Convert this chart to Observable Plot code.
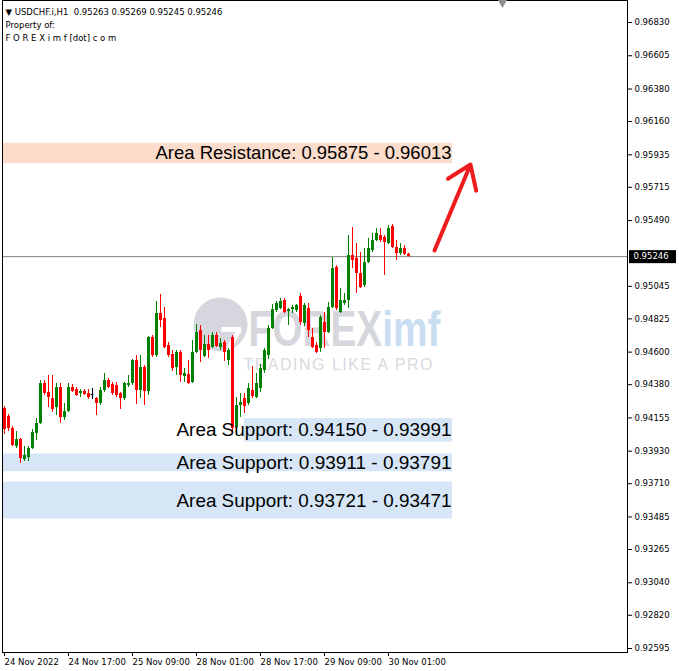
<!DOCTYPE html>
<html><head><meta charset="utf-8">
<script src="https://cdn.jsdelivr.net/npm/d3@7"></script>
<script src="https://cdn.jsdelivr.net/npm/@observablehq/plot@0.6"></script>
<style>
body{margin:0;background:#fff;}
#chart{width:679px;height:671px;overflow:hidden;}
</style></head><body><div id="chart"></div>
<script>
// ---- Data: USDCHF.i H1 candles ----
const opens  = [0.94219,0.94165,0.94083,0.93962,0.94009,0.93874,0.93887,0.93948,0.94050,0.94117,
0.94388,0.94327,0.94286,0.94225,0.94361,0.94158,0.94198,0.94361,0.94347,0.94320,
0.94334,0.94320,0.94313,0.94286,0.94253,0.94341,0.94408,0.94381,0.94374,0.94320,
0.94286,0.94374,0.94388,0.94543,0.94341,0.94496,0.94334,0.94699,0.94577,0.94861,
0.94828,0.94645,0.94584,0.94496,0.94598,0.94435,0.94449,0.94395,0.94598,0.94746,
0.94571,0.94652,0.94631,0.94713,0.94631,0.94665,0.94543,0.94699,0.94090,0.94239,
0.94286,0.94253,0.94341,0.94293,0.94354,0.94476,0.94577,0.94760,0.94882,0.94895,
0.94949,0.94875,0.94888,0.94882,0.94976,0.94794,0.94895,0.94699,0.94645,0.94625,
0.94801,0.94733,0.94902,0.95173,0.94868,0.94929,0.94949,0.95254,0.95234,0.95132,
0.95051,0.95206,0.95288,0.95355,0.95389,0.95376,0.95335,0.95450,0.95308,0.95267,
0.95301,0.95263];
const highs  = [0.94232,0.94178,0.94097,0.94063,0.94016,0.93962,0.93962,0.94077,0.94151,0.94408,
0.94408,0.94442,0.94442,0.94388,0.94388,0.94253,0.94388,0.94381,0.94361,0.94347,
0.94347,0.94347,0.94354,0.94293,0.94361,0.94456,0.94422,0.94395,0.94395,0.94327,
0.94395,0.94442,0.94550,0.94577,0.94577,0.94510,0.94706,0.94713,0.94943,0.94990,
0.94902,0.94665,0.94611,0.94611,0.94611,0.94489,0.94543,0.94679,0.94787,0.94780,
0.94713,0.94713,0.94733,0.94733,0.94692,0.94679,0.94625,0.94713,0.94293,0.94320,
0.94320,0.94388,0.94503,0.94456,0.94516,0.94625,0.94780,0.94922,0.94943,0.94963,
0.94963,0.94895,0.94916,0.94922,0.94997,0.94929,0.94929,0.94760,0.94665,0.94848,
0.94868,0.94936,0.95240,0.95186,0.95031,0.94997,0.95389,0.95443,0.95335,0.95274,
0.95301,0.95369,0.95403,0.95436,0.95436,0.95389,0.95457,0.95463,0.95355,0.95335,
0.95321,0.95269];
const lows   = [0.94043,0.94063,0.93962,0.93948,0.93847,0.93860,0.93860,0.93941,0.94002,0.94110,
0.94307,0.94225,0.94192,0.94171,0.94117,0.94138,0.94192,0.94327,0.94300,0.94293,
0.94307,0.94280,0.94280,0.94171,0.94239,0.94327,0.94354,0.94307,0.94293,0.94212,
0.94273,0.94361,0.94374,0.94246,0.94286,0.94239,0.94307,0.94564,0.94564,0.94767,
0.94625,0.94564,0.94469,0.94442,0.94395,0.94395,0.94381,0.94388,0.94591,0.94530,
0.94564,0.94557,0.94625,0.94631,0.94611,0.94537,0.94510,0.94056,0.94036,0.94158,
0.94185,0.94239,0.94286,0.94286,0.94327,0.94456,0.94550,0.94753,0.94868,0.94888,
0.94861,0.94780,0.94861,0.94868,0.94780,0.94773,0.94699,0.94625,0.94591,0.94598,
0.94625,0.94726,0.94895,0.94882,0.94861,0.94916,0.94895,0.95166,0.94997,0.95031,
0.95037,0.95200,0.95274,0.95348,0.95342,0.95119,0.95328,0.95301,0.95220,0.95254,
0.95254,0.95245];
const closes = [0.94077,0.94083,0.93968,0.94009,0.93880,0.93901,0.93948,0.94056,0.94117,0.94388,
0.94320,0.94293,0.94212,0.94361,0.94158,0.94198,0.94361,0.94334,0.94307,0.94334,
0.94313,0.94293,0.94313,0.94253,0.94341,0.94408,0.94361,0.94320,0.94307,0.94286,
0.94388,0.94388,0.94543,0.94341,0.94496,0.94334,0.94699,0.94577,0.94861,0.94814,
0.94631,0.94577,0.94489,0.94598,0.94442,0.94456,0.94388,0.94598,0.94733,0.94611,
0.94652,0.94611,0.94713,0.94638,0.94658,0.94598,0.94611,0.94083,0.94239,0.94259,
0.94232,0.94354,0.94300,0.94388,0.94489,0.94611,0.94760,0.94888,0.94929,0.94943,
0.94868,0.94888,0.94902,0.94916,0.94801,0.94916,0.94746,0.94631,0.94598,0.94834,
0.94733,0.94902,0.95166,0.94895,0.94949,0.94949,0.95254,0.95220,0.95132,0.95037,
0.95206,0.95301,0.95355,0.95403,0.95355,0.95342,0.95436,0.95308,0.95267,0.95301,
0.95261,0.95246];

// Time-axis tick labels and the bar each one sits on
const timeTickBars   = [0, 16, 32, 48, 64, 80, 96];
const timeTickLabels = ["24 Nov 2022","24 Nov 17:00","25 Nov 09:00","28 Nov 01:00","28 Nov 17:00","29 Nov 09:00","30 Nov 01:00"];

// Price-axis tick labels
const priceTicks = [0.96830,0.96605,0.96380,0.96160,0.95935,0.95715,0.95490,0.95045,0.94825,
0.94600,0.94380,0.94155,0.93930,0.93710,0.93485,0.93265,0.93040,0.92820,0.92595];

// Zones (price areas)
const zoneKind  = ["res","sup","sup","sup"];
const zoneLow   = [0.95875,0.93991,0.93791,0.93471];
const zoneHigh  = [0.96013,0.94150,0.93911,0.93721];
const zoneStart = [-1, 60, -1, -1];
const zoneEnd   = [112, 112, 112, 112];
const zoneLabel = ["Area Resistance: 0.95875 - 0.96013","Area Support: 0.94150 - 0.93991",
                   "Area Support: 0.93911 - 0.93791","Area Support: 0.93721 - 0.93471"];

// Arrow annotation (bar index, price)
const arrowFrom = [107.5, 0.95288];
const arrowTo   = [116.5, 0.95869];

const headerLines = ["\u25BC USDCHF.i,H1  0.95263 0.95269 0.95245 0.95246", "Property of:", "F O R E X i m f [dot] c o m"];
const watermarkParts = ["FOREX", "imf", "TRADING LIKE A PRO"];

// ---- Build tables ----
const candles = opens.map((o, i) => ({i, o, h: highs[i], l: lows[i], c: closes[i]}));
const zones = zoneLow.map((lo, k) => ({kind: zoneKind[k], low: lo, high: zoneHigh[k], start: zoneStart[k], end: zoneEnd[k], label: zoneLabel[k]}));
const lastClose = closes[closes.length - 1];
const col = d => d.c > d.o ? "#008000" : d.c < d.o ? "#ff0000" : "#000000";
const tickLabel = new Map(timeTickBars.map((b, k) => [b, timeTickLabels[k]]));
const fmt5 = d3.format(".5f");
const WM = watermarkParts.join(" ");

const FONT = "DejaVu Sans";

const chart = Plot.plot({
  width: 679, height: 671,
  marginLeft: 2, marginRight: 52, marginTop: 0, marginBottom: 19,
  x: {domain: [-0.5, 155.75], axis: null},
  y: {domain: [0.925681, 0.969788], axis: null},
  style: {fontFamily: FONT, fontSize: "8.5px", background: "#fff", color: "#000", overflow: "visible"},
  marks: [
    // zones
    Plot.rect(zones, {x1: "start", x2: "end", y1: "low", y2: "high",
      fill: d => d.kind === "res" ? "#fcdccb" : "#d6e6f6", clip: true}),
    // watermark
    Plot.dot([0], {frameAnchor: "top-left", dx: 218, dy: 324, r: 27, fill: "#d6d6de", stroke: "none"}),
    Plot.text(["7"], {frameAnchor: "top-left", dx: 217, dy: 326, fontSize: 42, fontWeight: "bold", fill: "#fff", fontFamily: "Liberation Sans"}),
    Plot.text([WM], {frameAnchor: "top-left", textAnchor: "start", fontFamily: "Liberation Sans", fill: "#d6d6dd"}),
    // current price line
    Plot.ruleY([lastClose], {stroke: "#808080", strokeWidth: 1}),
    // candles
    Plot.ruleX(candles, {x: "i", y1: "l", y2: "h", stroke: col, strokeWidth: 1}),
    Plot.ruleX(candles, {x: "i", y1: "o", y2: "c", stroke: col, strokeWidth: 3}),
    Plot.ruleY(candles.filter(d => d.o === d.c), {y: "o", x1: d => d.i - 0.375, x2: d => d.i + 0.375, stroke: "#000"}),
    // zone labels
    Plot.text(zones, {x: "end", y: d => (d.low + d.high) / 2, text: "label", textAnchor: "end", dx: -1,
      fontSize: 18.6, fontFamily: "Liberation Sans", fill: "#000"}),
    // arrow
    Plot.arrow([{x1: arrowFrom[0], y1: arrowFrom[1], x2: arrowTo[0], y2: arrowTo[1]}],
      {x1: "x1", y1: "y1", x2: "x2", y2: "y2", stroke: "#ee1c1c", strokeWidth: 4, headLength: 10, headAngle: 70}),
    // frame & axes
    Plot.frame({stroke: "#000"}),
    Plot.dot([0], {frameAnchor: "top-left", dx: 500, dy: 2, r: 3.5, symbol: "triangle", rotate: 180, fill: "#8f8f8f", stroke: "none"}),
    Plot.axisY({anchor: "right", ticks: priceTicks, tickFormat: fmt5, tickSize: 4, tickPadding: 3, fontSize: 8.5}),
    Plot.axisX({anchor: "bottom", ticks: timeTickBars, tickFormat: d => tickLabel.get(d), tickSize: 4, tickPadding: 2, textAnchor: "start", fontSize: 8.5}),
    // current price tag on the price axis
    Plot.rect([lastClose], {y1: d => d, y2: d => d, insetLeft: 627, insetRight: -49, insetTop: -6, insetBottom: -7, fill: "#000"}),
    Plot.text([lastClose], {y: d => d, frameAnchor: "right", dx: 6, textAnchor: "start", fill: "#fff", text: d => fmt5(d), fontSize: 8.5}),
    // header
    Plot.text([headerLines[0]], {frameAnchor: "top-left", dx: 3, dy: 8, textAnchor: "start", fontSize: 8.5, fill: "#000"}),
    Plot.text([headerLines[1]], {frameAnchor: "top-left", dx: 3, dy: 21, textAnchor: "start", fontSize: 8.5, fill: "#000"}),
    Plot.text([headerLines[2]], {frameAnchor: "top-left", dx: 3, dy: 34, textAnchor: "start", fontSize: 8.5, fill: "#000"})
  ]
});
const sel = d3.select(chart);
const byText = txt => sel.selectAll("text").filter(function() { return this.textContent === txt; });
// lay out the watermark lettering as one text element
const wm = byText(WM);
wm.attr("transform", null).attr("x", null).attr("y", null).attr("dy", null).text(null);
const brand = wm.append("tspan").attr("x", 248).attr("y", 345).attr("font-size", 50).attr("font-weight", "bold")
  .attr("textLength", 192).attr("lengthAdjust", "spacingAndGlyphs");
brand.append("tspan").attr("fill", "#d6d6dd").text(watermarkParts[0]);
brand.append("tspan").attr("fill", "#cadef2").text(watermarkParts[1]);
wm.append("tspan").attr("x", 243).attr("y", 369).attr("font-size", 16)
  .attr("fill", "#d9d9de").attr("textLength", 189).attr("lengthAdjust", "spacing").text(watermarkParts[2]);
// fit zone label widths to the reference
const fit = (txt, len) => byText(txt).attr("textLength", len).attr("lengthAdjust", "spacingAndGlyphs");
fit(zoneLabel[0], 296);
zoneLabel.slice(1).forEach(t => fit(t, 275));
document.getElementById("chart").appendChild(chart);
</script></body></html>
